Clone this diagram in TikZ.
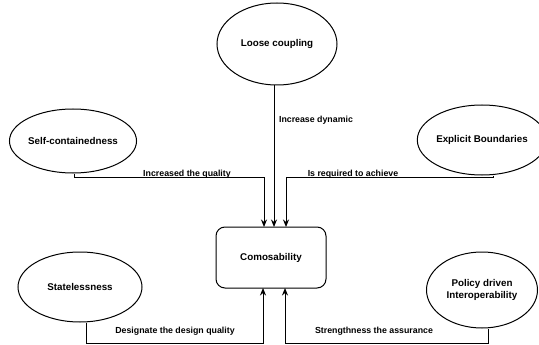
\documentclass[tikz,border=0pt]{standalone}
\usepackage{fontspec}
\setmainfont{Liberation Sans}
\usetikzlibrary{shapes.geometric,arrows.meta}
\begin{document}
\begin{tikzpicture}[x=1pt,y=-1pt,
  concept/.style={draw,ellipse,line width=1pt,inner sep=0pt,align=center,font=\fontsize{9.8}{11.5}\selectfont\bfseries},
  hub/.style={draw,rounded corners=9pt,line width=1pt,font=\fontsize{9.8}{11.5}\selectfont\bfseries},
  link/.style={line width=1pt,-{Stealth[length=7.5pt,width=6pt]}},
  tag/.style={font=\fontsize{8.8}{10}\selectfont\bfseries}]
\useasboundingbox (0,0) rectangle (539,345);
\node[concept,minimum width=120pt,minimum height=82pt] (loose) at (277,44) {Loose coupling};
\node[concept,minimum width=119pt,minimum height=64pt] (self) at (73,141) {Self-containedness};
\node[concept,minimum width=108pt,minimum height=70pt] (explicit) at (482,140) {Explicit Boundaries};
\node[concept,minimum width=124pt,minimum height=70pt] (state) at (80,287) {Statelessness};
\node[concept,minimum width=111pt,minimum height=76pt] (policy) at (482,290) {Policy driven\\Interoperability};
\node[hub,minimum width=110pt,minimum height=61pt] (comp) at (271,257.5) {Comosability};

% connectors into the top and bottom of the hub
\draw[link] (self.south -| 74,0) |- (264,177) -- (264,227);
\draw[link] (loose.south -| 274,0) -- (274,227);
\draw[link] (explicit.south -| 493,0) |- (286,177) -- (286,227);
\draw[link] (state.south -| 86,0) |- (263,343) -- (263,288);
\draw[link] (policy.south -| 488,0) |- (285,343) -- (285,288);

\node[tag] (t1) at (187,174) {Increased the quality};
\node[tag] (t2) at (316,120) {Increase dynamic};
\node[tag] (t3) at (353,174) {Is required to achieve};
\node[tag] (t4) at (175,331) {Designate the design quality};
\node[tag] (t5) at (374,331) {Strengthness the assurance};
\end{tikzpicture}
\end{document}
